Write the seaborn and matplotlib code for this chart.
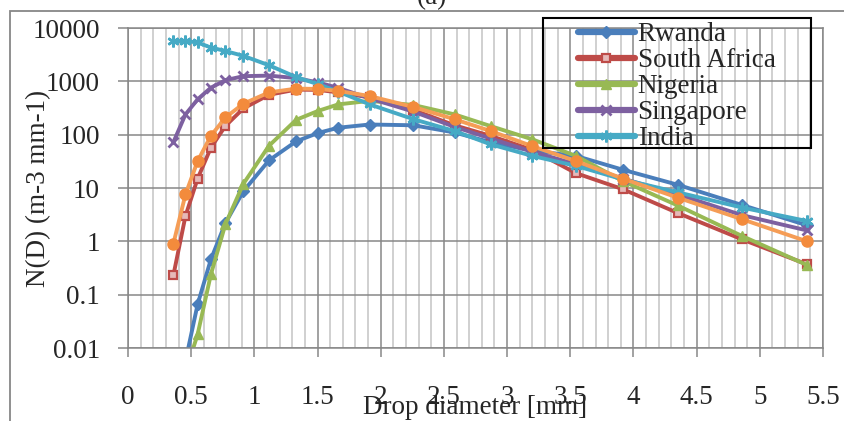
import matplotlib
matplotlib.use("Agg")
import matplotlib.pyplot as plt
from matplotlib.lines import Line2D
from matplotlib.patches import Rectangle
from matplotlib.ticker import MultipleLocator, NullLocator, FixedLocator
import seaborn as sns

# Drop-size bin centres (mm)
diameter = [0.359, 0.455, 0.551, 0.656, 0.771, 0.913, 1.116, 1.331, 1.506, 1.665,
            1.912, 2.259, 2.584, 2.869, 3.198, 3.544, 3.916, 4.350, 4.859, 5.373]

# N(D) per location (m-3 mm-1)
rwanda = [0.0004, 0.0057, 0.066, 0.46, 2.2, 8.7, 33, 75, 108, 135,
          155, 150, 110, 72, 50, 40, 22, 11.5, 4.8, 2.0]
south_africa = [0.23, 3.0, 15, 57, 146, 310, 560, 700, 690, 620,
                500, 290, 150, 95, 52, 19, 9.5, 3.4, 1.09, 0.37]
nigeria = [0.0002, 0.0035, 0.018, 0.24, 2.1, 12, 62, 190, 280, 370,
           430, 360, 240, 145, 82, 40, 13.5, 4.7, 1.26, 0.36]
singapore = [72, 240, 460, 760, 1050, 1250, 1280, 1150, 950, 750,
             480, 270, 140, 85, 48, 28, 15, 7.6, 3.1, 1.6]
india = [5700, 5700, 5350, 4300, 3700, 3000, 2000, 1200, 880, 640,
         370, 195, 117, 66, 40, 26, 14.5, 8.3, 4.3, 2.4]
series6 = [0.9, 7.6, 32, 95, 210, 380, 620, 730, 720, 660,
           530, 330, 195, 117, 61, 32, 15, 6.6, 2.6, 1.0]

series_names = ["Rwanda", "South Africa", "Nigeria", "Singapore", "India", "Series6"]
series_values = [rwanda, south_africa, nigeria, singapore, india, series6]
legend_names = ["Rwanda", "South Africa", "Nigeria", "Singapore", "India"]

x_ticks = [0, 0.5, 1, 1.5, 2, 2.5, 3, 3.5, 4, 4.5, 5, 5.5]
x_tick_labels = ["0", "0.5", "1", "1.5", "2", "2.5", "3", "3.5", "4", "4.5", "5", "5.5"]
y_ticks = [0.01, 0.1, 1, 10, 100, 1000, 10000]
y_tick_labels = ["0.01", "0.1", "1", "10", "100", "1000", "10000"]

sns.set_style("white")
plt.rcParams["font.family"] = ["Liberation Serif", "DejaVu Serif"]
FS = 19.5

W, H = 844, 421
fig = plt.figure(figsize=(W / 100, H / 100), dpi=100)
ax = fig.add_axes([128 / W, (H - 348) / H, 695 / W, 320 / H])

styles = {
    "Rwanda": dict(color="#4A7EBB", marker="D", markersize=6, mfc="#4A7EBB", mec="#4A7EBB", mew=1),
    "South Africa": dict(color="#BE4B48", marker="s", markersize=6, mfc="#E6B9B8", mec="#BE4B48", mew=1.6),
    "Nigeria": dict(color="#98B954", marker="^", markersize=6.5, mfc="#98B954", mec="#98B954", mew=1),
    "Singapore": dict(color="#7D60A0", marker="x", markersize=6.5, mfc="#7D60A0", mec="#7D60A0", mew=2),
    "India": dict(color="#46AAC5", marker=(6, 2, 0), markersize=8.5, mfc="#46AAC5", mec="#46AAC5", mew=1.8),
    "Series6": dict(color="#F59D56", marker="o", markersize=8, mfc="#F38B3C", mec="#F38B3C", mew=1),
}
LW = 2.8

for name, vals in zip(series_names, series_values):
    st = styles[name]
    sns.lineplot(x=diameter, y=vals, ax=ax, estimator=None, sort=False, legend=False,
                 color=st["color"], marker=st["marker"], markersize=st["markersize"],
                 markerfacecolor=st["mfc"], markeredgecolor=st["mec"],
                 markeredgewidth=st["mew"], linewidth=LW)

ax.set_yscale("log")
ax.set_xlim(0, 5.5)
ax.set_ylim(0.01, 10000)
ax.xaxis.set_major_locator(FixedLocator(x_ticks))
ax.set_xticklabels(x_tick_labels)
ax.xaxis.set_minor_locator(MultipleLocator(0.1))
ax.yaxis.set_major_locator(FixedLocator(y_ticks))
ax.set_yticklabels(y_tick_labels)
ax.yaxis.set_minor_locator(NullLocator())

grid_dark = "#878787"
grid_light = "#C3C3C3"
ax.set_axisbelow(True)
ax.grid(which="minor", axis="x", color=grid_light, linewidth=1.1)
ax.grid(which="major", axis="both", color=grid_dark, linewidth=1.1)
for sp in ax.spines.values():
    sp.set_color(grid_dark)
    sp.set_linewidth(1.1)

ax.tick_params(axis="x", which="major", direction="out", length=6.5, width=1.1,
               color=grid_dark, labelsize=FS, pad=20, bottom=True)
ax.tick_params(axis="x", which="minor", length=0)
ax.tick_params(axis="y", which="major", direction="out", length=7.2, width=1.1,
               color=grid_dark, labelsize=FS, pad=13, left=True)

ax.set_xlabel("Drop diameter [mm]", fontsize=FS)
ax.xaxis.set_label_coords(0.5, (348 - 395) / 320)
ax.set_ylabel("N(D) (m-3 mm-1)", fontsize=FS)
ax.yaxis.set_label_coords(-0.111, 0.5)

handles = []
for name in legend_names:
    st = styles[name]
    handles.append(Line2D([], [], color=st["color"], linewidth=LW * 1.6, marker=st["marker"],
                          markersize=st["markersize"], markerfacecolor=st["mfc"],
                          markeredgecolor=st["mec"], markeredgewidth=st["mew"]))
ax.legend(handles, legend_names, loc="upper left",
          bbox_to_anchor=(578 / W, 1 - 22 / H), bbox_transform=fig.transFigure,
          frameon=False, fontsize=FS, handlelength=2.1, handletextpad=0.1,
          labelspacing=0.04, borderpad=0, borderaxespad=0)

# legend frame (transparent, black outline)
fig.add_artist(Rectangle((543 / W, 1 - 148 / H), (811 - 543) / W, (148 - 18) / H,
                         transform=fig.transFigure, fill=False, edgecolor="black",
                         linewidth=1.5))

# outer chart border
fig.add_artist(Rectangle((10 / W, -0.5), 2.0, 1.5 - 11 / H,
                         transform=fig.transFigure, fill=False, edgecolor=grid_dark,
                         linewidth=1.3))

fig.text(432 / W, 1 - 4 / H, "(a)", ha="center", va="baseline", fontsize=FS)

fig.savefig("out.png", dpi=100)
